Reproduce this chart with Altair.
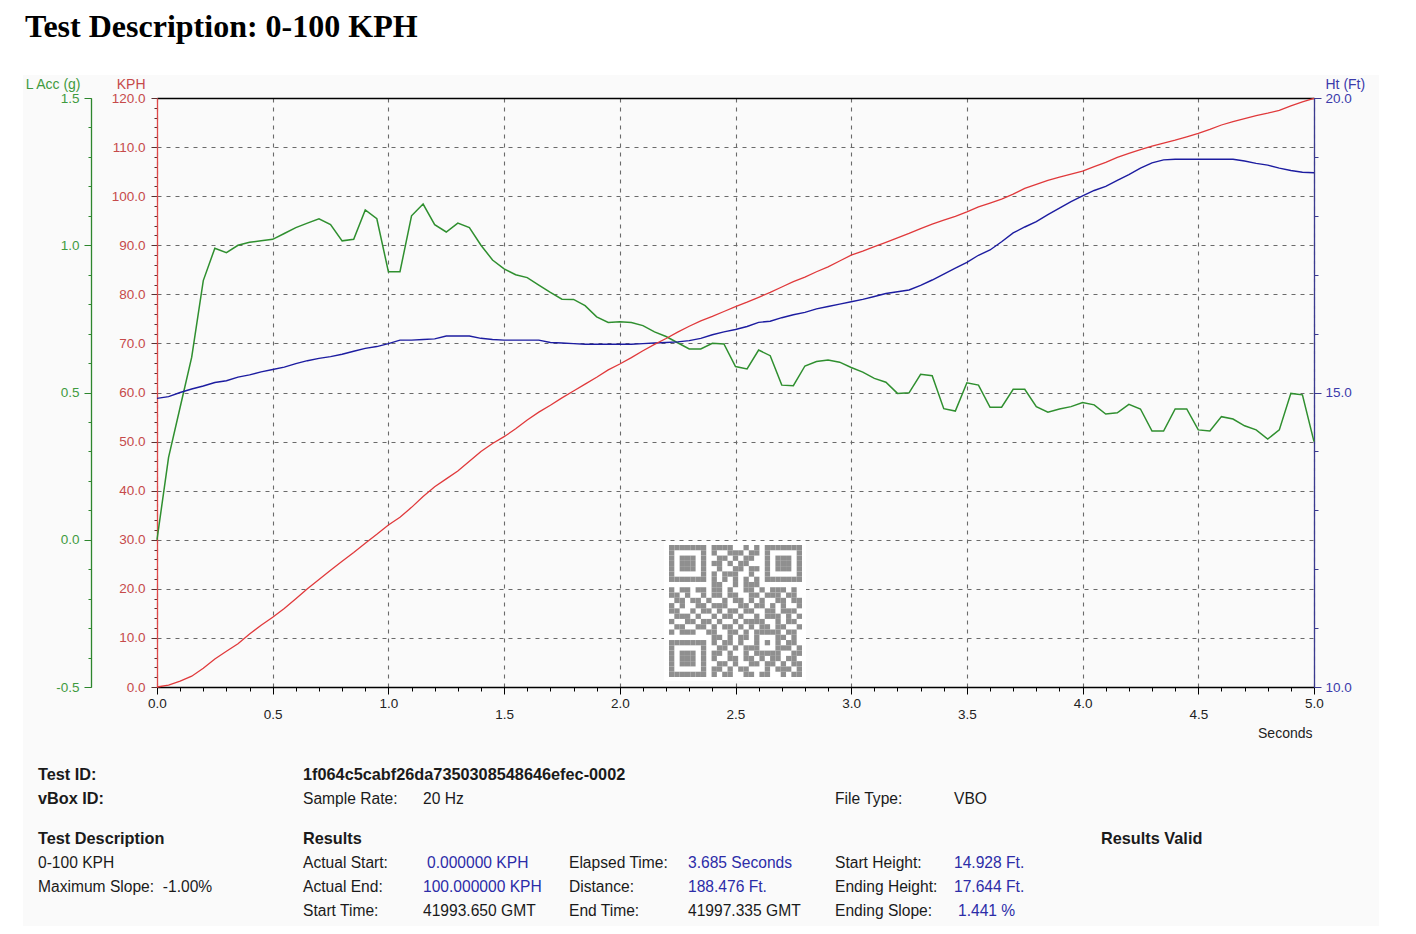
import altair as alt
import pandas as pd

# 20 Hz samples of the 0-100 KPH run
TIME_S = [
    0.00, 0.05, 0.10, 0.15, 0.20, 0.25, 0.30, 0.35, 0.40, 0.45,
    0.50, 0.55, 0.60, 0.65, 0.70, 0.75, 0.80, 0.85, 0.90, 0.95,
    1.00, 1.05, 1.10, 1.15, 1.20, 1.25, 1.30, 1.35, 1.40, 1.45,
    1.50, 1.55, 1.60, 1.65, 1.70, 1.75, 1.80, 1.85, 1.90, 1.95,
    2.00, 2.05, 2.10, 2.15, 2.20, 2.25, 2.30, 2.35, 2.40, 2.45,
    2.50, 2.55, 2.60, 2.65, 2.70, 2.75, 2.80, 2.85, 2.90, 2.95,
    3.00, 3.05, 3.10, 3.15, 3.20, 3.25, 3.30, 3.35, 3.40, 3.45,
    3.50, 3.55, 3.60, 3.65, 3.70, 3.75, 3.80, 3.85, 3.90, 3.95,
    4.00, 4.05, 4.10, 4.15, 4.20, 4.25, 4.30, 4.35, 4.40, 4.45,
    4.50, 4.55, 4.60, 4.65, 4.70, 4.75, 4.80, 4.85, 4.90, 4.95,
    5.00,
]
SPEED_KPH = [
    0.0, 0.4, 1.2, 2.2, 3.8, 5.7, 7.3, 8.8, 10.8, 12.6,
    14.2, 16.0, 18.0, 20.0, 21.9, 23.8, 25.6, 27.4, 29.3, 31.1,
    33.0, 34.6, 36.6, 38.8, 40.8, 42.4, 44.0, 46.0, 48.0, 49.6,
    51.0, 52.6, 54.4, 56.0, 57.4, 58.9, 60.3, 61.7, 63.1, 64.6,
    65.8, 67.1, 68.5, 69.8, 71.0, 72.3, 73.5, 74.6, 75.5, 76.5,
    77.5, 78.4, 79.4, 80.4, 81.5, 82.6, 83.5, 84.6, 85.6, 86.8,
    88.0, 88.8, 89.7, 90.6, 91.5, 92.4, 93.4, 94.3, 95.1, 95.9,
    96.8, 97.8, 98.6, 99.4, 100.4, 101.6, 102.4, 103.2, 103.9, 104.5,
    105.1, 106.0, 106.9, 107.9, 108.7, 109.5, 110.2, 110.8, 111.4, 112.1,
    112.8, 113.6, 114.5, 115.2, 115.8, 116.4, 116.9, 117.5, 118.4, 119.2,
    119.9,
]
LACC_G = [
    0.00, 0.28, 0.45, 0.62, 0.88, 0.99, 0.975, 1.00, 1.01, 1.015,
    1.02, 1.04, 1.06, 1.075, 1.09, 1.07, 1.015, 1.02, 1.12, 1.09,
    0.91, 0.91, 1.10, 1.14, 1.07, 1.045, 1.075, 1.06, 1.00, 0.95,
    0.92, 0.90, 0.89, 0.865, 0.84, 0.817, 0.816, 0.795, 0.757, 0.738,
    0.74, 0.738, 0.727, 0.706, 0.69, 0.669, 0.648, 0.648, 0.667, 0.665,
    0.588, 0.58, 0.644, 0.625, 0.525, 0.523, 0.59, 0.605, 0.61, 0.603,
    0.585, 0.569, 0.548, 0.535, 0.497, 0.499, 0.562, 0.557, 0.445, 0.437,
    0.533, 0.525, 0.45, 0.45, 0.511, 0.511, 0.452, 0.433, 0.444, 0.452,
    0.466, 0.458, 0.427, 0.431, 0.46, 0.444, 0.369, 0.369, 0.444, 0.444,
    0.373, 0.369, 0.418, 0.41, 0.387, 0.373, 0.342, 0.373, 0.497, 0.492,
    0.333,
]
HEIGHT_FT = [
    14.90, 14.93, 15.00, 15.06, 15.11, 15.17, 15.20, 15.26, 15.30, 15.35,
    15.39, 15.43, 15.49, 15.54, 15.58, 15.61, 15.65, 15.70, 15.75, 15.78,
    15.83, 15.89, 15.89, 15.90, 15.91, 15.96, 15.96, 15.96, 15.92, 15.90,
    15.89, 15.89, 15.89, 15.89, 15.85, 15.84, 15.83, 15.82, 15.82, 15.82,
    15.82, 15.82, 15.83, 15.84, 15.85, 15.86, 15.88, 15.92, 15.98, 16.03,
    16.07, 16.12, 16.19, 16.21, 16.27, 16.32, 16.36, 16.42, 16.46, 16.50,
    16.54, 16.58, 16.63, 16.68, 16.71, 16.74, 16.82, 16.91, 17.01, 17.11,
    17.21, 17.33, 17.42, 17.56, 17.71, 17.81, 17.90, 18.02, 18.13, 18.24,
    18.34, 18.43, 18.50, 18.60, 18.70, 18.81, 18.90, 18.95, 18.96, 18.96,
    18.96, 18.96, 18.96, 18.96, 18.93, 18.89, 18.86, 18.81, 18.77, 18.74,
    18.73,
]

TITLE = "Test Description: 0-100 KPH"

# footer text: (text, page x, page y)
FOOTER_BOLD = [
    ("Test ID:", 38, 775), ("1f064c5cabf26da7350308548646efec-0002", 303, 775),
    ("vBox ID:", 38, 799), ("Test Description", 38, 839),
    ("Results", 303, 839), ("Results Valid", 1101, 839),
]
FOOTER_PLAIN = [
    ("Sample Rate:", 303, 799), ("20 Hz", 423, 799),
    ("File Type:", 835, 799), ("VBO", 954, 799),
    ("0-100 KPH", 38, 863), ("Maximum Slope:\u00a0 -1.00%", 38, 887),
    ("Actual Start:", 303, 863), ("Actual End:", 303, 887), ("Start Time:", 303, 911),
    ("41993.650 GMT", 423, 911),
    ("Elapsed Time:", 569, 863), ("Distance:", 569, 887), ("End Time:", 569, 911),
    ("41997.335 GMT", 688, 911),
    ("Start Height:", 835, 863), ("Ending Height:", 835, 887), ("Ending Slope:", 835, 911),
]
FOOTER_BLUE = [
    ("0.000000 KPH", 427, 863), ("100.000000 KPH", 423, 887),
    ("3.685 Seconds", 688, 863), ("188.476 Ft.", 688, 887),
    ("14.928 Ft.", 954, 863), ("17.644 Ft.", 954, 887), ("1.441 %", 958, 911),
]

# QR code stamp in the middle of the plot (1 = dark module)
QR_ROWS = [
    "1111111011110010101111111",
    "1000001010011101101000001",
    "1011101001101011001011101",
    "1011101011010110001011101",
    "1011101001001101101011101",
    "1000001010111001001000001",
    "1111111010101010101111111",
    "0000000011001011100000000",
    "1011011011010011010111010",
    "1101001011011001101110110",
    "0110110100101101010011011",
    "1010011011100110110101001",
    "1100101101011011001101110",
    "0111010010110100101110101",
    "1001101101001011110010110",
    "0110011010110101011011001",
    "1011100110011010111110110",
    "0000000011010110100011010",
    "1111111010110100101010110",
    "1000001001101011100011101",
    "1011101011010010111110011",
    "1011101010011011010110110",
    "1011101001101001101101011",
    "1000001011010110001011101",
    "1111111010110011011001011",
]

COLORS = {
    "red": "#e0393b", "red_axis": "#e04848", "red_label": "#c64a4a",
    "green": "#2f8f2f", "green_axis": "#2d862d", "green_label": "#3f9a3f",
    "blue": "#1c1ca0", "blue_axis": "#3a3a90", "blue_label": "#3b3bab",
    "grid": "#6a6a6a", "panel": "#fafafa", "text": "#1a1a1a", "value": "#2c2ca8",
    "qr": "#8f8f8f",
}
FONT = "Liberation Sans"

W, H = 1157, 589        # plot area
OX, OY = 157, 98        # plot origin on the page


def px(x):
    return x - OX


def py(y):
    return y - OY


df = pd.DataFrame({"t": TIME_S, "kph": SPEED_KPH, "acc": LACC_G, "ht": HEIGHT_FT})
one = pd.DataFrame({"k": [0]})

x_scale = alt.Scale(domain=[0, 5], nice=False, zero=False)
kph_scale = alt.Scale(domain=[0, 120], nice=False, zero=False)
acc_scale = alt.Scale(domain=[-0.5, 1.5], nice=False, zero=False)
ht_scale = alt.Scale(domain=[10, 20], nice=False, zero=False)

lab = dict(labelFont=FONT, labelFontSize=13.5, titleFont=FONT, titleFontSize=14,
           titleFontWeight="normal")
minor = dict(labels=False, domain=False, grid=False, title=None)
hyphen = "replace(format(datum.value, '.1f'), '\u2212', '-')"

# --- main series -----------------------------------------------------------
speed = alt.Chart(df).mark_line(color=COLORS["red"], strokeWidth=1.3).encode(
    x=alt.X("t:Q", scale=x_scale, axis=alt.Axis(
        orient="bottom", values=[0, 0.5, 1, 1.5, 2, 2.5, 3, 3.5, 4, 4.5, 5],
        labelExpr="datum.value % 1 == 0 ? format(datum.value, '.1f') : ''",
        labelFlush=False, labelPadding=2, labelColor="#222",
        tickSize=7, tickColor="#000", domainColor="#000", domainWidth=1.3,
        grid=True, gridColor=COLORS["grid"], gridDash=[4, 5], gridWidth=1.1,
        title="Seconds", titleX=1155, titleY=50, titleAlign="right",
        titleBaseline="alphabetic", titleColor="#222", **lab)),
    y=alt.Y("kph:Q", scale=kph_scale, axis=alt.Axis(
        orient="left", values=list(range(0, 121, 10)), format=".1f",
        tickSize=6, tickColor="#5a3030", domainColor=COLORS["red_axis"], domainWidth=1.3,
        labelColor=COLORS["red_label"], labelPadding=6,
        grid=True, gridColor=COLORS["grid"], gridDash=[4, 5], gridWidth=1.1,
        title="KPH", titleAngle=0, titleX=-12, titleY=-10, titleAlign="right",
        titleBaseline="alphabetic", titleColor=COLORS["red_label"], **lab)),
)

speed_minor = alt.Chart(df).mark_line(opacity=0).encode(
    x=alt.X("t:Q", scale=x_scale, axis=alt.Axis(
        orient="bottom", values=[0.5, 1.5, 2.5, 3.5, 4.5], format=".1f",
        labelFlush=False, tickSize=0, ticks=False, domain=False, grid=False,
        labelPadding=20, labelColor="#222", title=None, **lab)),
    y=alt.Y("kph:Q", scale=kph_scale, axis=alt.Axis(
        orient="left", values=list(range(0, 121, 2)), tickSize=3,
        tickColor="#5a3030", **minor)),
)

acc = alt.Chart(df).mark_line(color=COLORS["green"], strokeWidth=1.5).encode(
    x=alt.X("t:Q", scale=x_scale, axis=None),
    y=alt.Y("acc:Q", scale=acc_scale, axis=alt.Axis(
        orient="left", offset=66, values=[-0.5, 0, 0.5, 1, 1.5], labelExpr=hyphen,
        tickSize=7, tickColor=COLORS["green_axis"], domainColor=COLORS["green_axis"],
        domainWidth=1.3, labelColor=COLORS["green_label"], labelPadding=5, grid=False,
        title="L Acc (g)", titleAngle=0, titleX=-11, titleY=-10, titleAlign="right",
        titleBaseline="alphabetic", titleColor=COLORS["green_label"], **lab)),
)

acc_minor = alt.Chart(df).mark_line(opacity=0).encode(
    x=alt.X("t:Q", scale=x_scale, axis=alt.Axis(
        orient="bottom", values=[i / 10 for i in range(51)], tickSize=4,
        tickColor="#000", **minor)),
    y=alt.Y("acc:Q", scale=acc_scale, axis=alt.Axis(
        orient="left", offset=66, values=[i / 10 - 0.5 for i in range(21)],
        tickSize=3, tickColor=COLORS["green_axis"], **minor)),
)

height = alt.Chart(df).mark_line(color=COLORS["blue"], strokeWidth=1.4).encode(
    x=alt.X("t:Q", scale=x_scale, axis=alt.Axis(
        orient="top", labels=False, ticks=False, grid=False, domainColor="#000",
        domainWidth=1.6, title=None)),
    y=alt.Y("ht:Q", scale=ht_scale, axis=alt.Axis(
        orient="right", values=[10, 15, 20], format=".1f",
        tickSize=7, tickColor=COLORS["blue_axis"], domainColor=COLORS["blue_axis"],
        domainWidth=1.3, labelColor=COLORS["blue_label"], labelPadding=4, grid=False,
        title="Ht (Ft)", titleAngle=0, titleX=11, titleY=-10, titleAlign="left",
        titleBaseline="alphabetic", titleColor=COLORS["blue_label"], **lab)),
)

height_minor = alt.Chart(df).mark_line(opacity=0).encode(
    x=alt.X("t:Q", scale=x_scale, axis=None),
    y=alt.Y("ht:Q", scale=ht_scale, axis=alt.Axis(
        orient="right", values=list(range(10, 21)), tickSize=4,
        tickColor=COLORS["blue_axis"], **minor)),
)

# --- page furniture ----------------------------------------------------------
def band(x0, y0, x1, y1, color):
    return alt.Chart(one).mark_rect(color=color).encode(
        x=alt.value(px(x0)), x2=alt.value(px(x1)),
        y=alt.value(py(y0)), y2=alt.value(py(y1)))


bands = [
    band(8, 8, 1408, 75, "white"),
    band(8, 75, 23, 926, "white"),
    band(1379, 75, 1408, 926, "white"),
]

qr_cells = pd.DataFrame(
    [{"c": c, "r": r, "c2": c + 1, "r2": r + 1}
     for r, row in enumerate(QR_ROWS) for c, ch in enumerate(row) if ch == "1"])
qr_bg = band(664, 541, 806, 681, "white")
qr = alt.Chart(qr_cells).mark_rect(color=COLORS["qr"]).encode(
    x=alt.X("c:Q", scale=alt.Scale(domain=[0, 25], range=[px(669), px(802)]), axis=None),
    x2="c2:Q",
    y=alt.Y("r:Q", scale=alt.Scale(domain=[0, 25], range=[py(545), py(677)]), axis=None),
    y2="r2:Q",
)

title = alt.Chart(one).mark_text(
    font="Liberation Serif", fontSize=32, fontWeight="bold", align="left",
    baseline="alphabetic", color="black",
).encode(x=alt.value(px(25)), y=alt.value(py(37)), text=alt.value(TITLE))


def footer(items, color, weight, size):
    fdf = pd.DataFrame({"text": [i[0] for i in items],
                        "fx": [px(i[1]) for i in items],
                        "fy": [py(i[2]) for i in items]})
    return alt.Chart(fdf).mark_text(
        font=FONT, fontSize=size, fontWeight=weight, align="left",
        baseline="middle", color=color,
    ).encode(x=alt.X("fx:Q", scale=None, axis=None),
             y=alt.Y("fy:Q", scale=None, axis=None),
             text="text:N")


texts = [
    footer(FOOTER_BOLD, COLORS["text"], "bold", 16.3),
    footer(FOOTER_PLAIN, COLORS["text"], "normal", 15.6),
    footer(FOOTER_BLUE, COLORS["value"], "normal", 15.6),
]

chart = alt.layer(
    *bands, qr_bg, qr,
    acc_minor, speed_minor, height_minor,
    acc, height, speed,
    title, *texts,
).resolve_scale(
    x="independent", y="independent"
).properties(
    width=W, height=H,
    padding={"left": 149, "top": 90, "right": 94, "bottom": 239},
    autosize=alt.AutoSizeParams(type="none"),
    background=COLORS["panel"],
).configure_view(strokeOpacity=0)

chart.save("out.html", embed_options={"renderer": "svg", "actions": False})
